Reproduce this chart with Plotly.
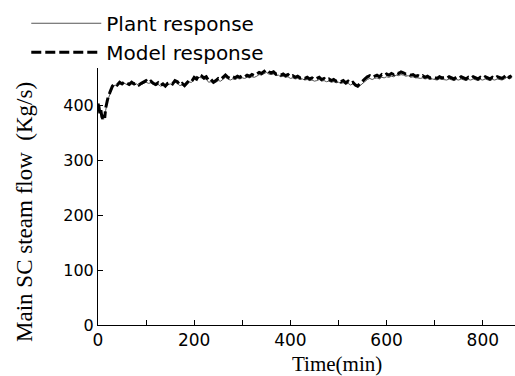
import plotly.graph_objects as go

time_min = [0, 2, 4, 6, 8, 10, 12, 14, 16, 18, 20, 25, 30,
            35, 40, 45, 50, 55, 60, 65, 70, 75, 80,
            85, 90, 95, 100, 105, 110, 115, 120, 125, 130,
            135, 140, 145, 150, 155, 160, 165, 170, 175, 180,
            185, 190, 195, 200, 205, 210, 215, 220, 225, 230,
            235, 240, 245, 250, 255, 260, 265, 270, 275, 280,
            285, 290, 295, 300, 305, 310, 315, 320, 325, 330,
            335, 340, 345, 350, 355, 360, 365, 370, 375, 380,
            385, 390, 395, 400, 405, 410, 415, 420, 425, 430,
            435, 440, 445, 450, 455, 460, 465, 470, 475, 480,
            485, 490, 495, 500, 505, 510, 515, 520, 525, 530,
            535, 540, 545, 550, 555, 560, 565, 570, 575, 580,
            585, 590, 595, 600, 605, 610, 615, 620, 625, 630,
            635, 640, 645, 650, 655, 660, 665, 670, 675, 680,
            685, 690, 695, 700, 705, 710, 715, 720, 725, 730,
            735, 740, 745, 750, 755, 760, 765, 770, 775, 780,
            785, 790, 795, 800, 805, 810, 815, 820, 825, 830,
            835, 840, 845, 850, 855, 860]

plant_response = [400, 396, 388, 386, 382, 379, 381, 383, 392, 402, 409, 422, 433,
                  438, 437, 440, 439, 441, 439, 437, 440, 438, 440,
                  437, 439, 441, 443, 441, 442, 439, 437, 439, 436,
                  438, 435, 438, 440, 439, 443, 441, 437, 438, 435,
                  439, 443, 443, 448, 447, 452, 451, 448, 449, 443,
                  444, 441, 443, 446, 445, 449, 452, 449, 447, 449,
                  448, 450, 449, 451, 450, 452, 451, 453, 452, 454,
                  457, 456, 459, 461, 458, 457, 458, 455, 456, 453,
                  454, 452, 453, 450, 451, 449, 450, 448, 449, 447,
                  448, 446, 447, 445, 446, 448, 445, 446, 444, 445,
                  443, 444, 442, 443, 441, 442, 439, 441, 438, 440,
                  436, 434, 437, 441, 444, 448, 450, 448, 450, 451,
                  449, 452, 451, 453, 452, 454, 453, 456, 455, 457,
                  456, 454, 455, 452, 453, 451, 451, 450, 451, 449,
                  450, 448, 449, 448, 447, 449, 448, 448, 447, 449,
                  448, 446, 448, 447, 449, 448, 446, 448, 447, 449,
                  448, 446, 448, 447, 449, 448, 446, 448, 447, 449,
                  448, 447, 449, 452, 449, 451]

model_response = [404, 398, 385, 392, 380, 376, 384, 378, 396, 405, 412, 425, 436,
                  441, 438, 443, 440, 444, 441, 439, 443, 440, 442,
                  438, 441, 444, 446, 442, 445, 441, 439, 442, 437,
                  440, 436, 441, 443, 440, 446, 444, 438, 441, 437,
                  442, 447, 445, 452, 449, 457, 455, 451, 453, 446,
                  448, 443, 446, 450, 448, 453, 456, 452, 450, 453,
                  451, 454, 452, 455, 453, 456, 454, 457, 455, 458,
                  461, 459, 463, 466, 462, 460, 462, 458, 459, 456,
                  458, 455, 457, 453, 455, 452, 454, 451, 453, 450,
                  452, 449, 451, 448, 450, 452, 448, 450, 447, 449,
                  446, 448, 445, 447, 444, 446, 442, 445, 441, 443,
                  438, 436, 441, 446, 449, 453, 455, 452, 454, 456,
                  453, 457, 455, 458, 456, 459, 457, 461, 459, 462,
                  460, 458, 459, 456, 457, 454, 455, 453, 455, 452,
                  454, 451, 453, 452, 450, 453, 451, 452, 450, 453,
                  451, 449, 452, 450, 453, 451, 449, 452, 450, 453,
                  451, 449, 452, 450, 453, 451, 449, 452, 450, 453,
                  451, 450, 453, 457, 452, 455]

x_tick_vals = [0, 100, 200, 300, 400, 500, 600, 700, 800]
x_tick_text = ["0", "", "200", "", "400", "", "600", "", "800"]
y_tick_vals = [0, 100, 200, 300, 400]

fig = go.Figure()
fig.add_trace(go.Scatter(x=time_min, y=plant_response, mode="lines",
                         name="Plant response",
                         line=dict(color="#555555", width=1)))
fig.add_trace(go.Scatter(x=time_min, y=model_response, mode="lines",
                         name="Model response",
                         line=dict(color="black", width=3, dash="10px,4px")))

fig.update_layout(
    width=515, height=376,
    margin=dict(l=98, r=0, t=68, b=51),
    paper_bgcolor="white", plot_bgcolor="white",
    showlegend=True,
    legend=dict(x=-0.172, y=1.25, xanchor="left", yanchor="top",
                itemwidth=70, tracegroupgap=0,
                font=dict(family="DejaVu Sans", size=20, color="black"),
                bgcolor="rgba(0,0,0,0)"),
    xaxis=dict(range=[0, 867], tickvals=x_tick_vals, ticktext=x_tick_text,
               ticks="inside", ticklen=5, tickcolor="black",
               showline=True, linecolor="black", linewidth=1,
               showgrid=False, zeroline=False,
               tickfont=dict(family="DejaVu Sans", size=17, color="black")),
    yaxis=dict(range=[0, 469], tickvals=y_tick_vals,
               ticks="inside", ticklen=5, tickcolor="black",
               showline=True, linecolor="black", linewidth=1,
               showgrid=False, zeroline=False,
               tickfont=dict(family="DejaVu Sans", size=16, color="black")),
    annotations=[
        dict(text="Main SC steam flow  (Kg/s)", xref="paper", yref="paper",
             x=-0.175, y=0.44, xanchor="center", yanchor="middle",
             textangle=-90, showarrow=False,
             font=dict(family="Liberation Serif", size=23, color="black")),
        dict(text="Time(min)", xref="paper", yref="paper",
             x=0.573, y=-0.152, xanchor="center", yanchor="middle",
             showarrow=False,
             font=dict(family="Liberation Serif", size=21, color="black")),
    ],
)

fig.write_html("out.html")
